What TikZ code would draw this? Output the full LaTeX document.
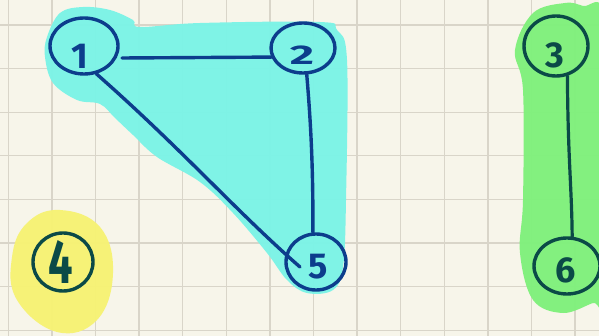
\documentclass[tikz,border=0pt]{standalone}
\usepackage{fontspec}
\setmainfont{Fira Sans}
\usetikzlibrary{shapes.geometric,calc}
\definecolor{paper}{HTML}{F7F5EA}
\definecolor{gridc}{HTML}{D9D5C9}
\definecolor{blueink}{HTML}{0C3D8C}
\definecolor{tealink}{HTML}{0B4A47}
\definecolor{hlcyan}{HTML}{7CF3E6}
\definecolor{hlgreen}{HTML}{80F07C}
\definecolor{hlyellow}{HTML}{F6F274}
\tikzset{
  gridline/.style={gridc, line width=1.3pt},
  vtx/.style={ellipse, draw=#1, line width=3.4pt, inner sep=0pt},
  lbl/.style={text=#1, font=\fontsize{36}{36}\selectfont\bfseries, inner sep=0pt},
  edgeb/.style={draw=blueink, line width=3.4pt, line cap=round},
  edget/.style={draw=tealink, line width=3.2pt, line cap=round},
}
\begin{document}
\begin{tikzpicture}[x=1pt,y=-1pt]
\useasboundingbox (0,0) rectangle (599,336);
\fill[paper] (0,0) rectangle (599,336);
\clip (0,0) rectangle (599,336);
\foreach \i in {0,...,13} \draw[gridline] ({8.3+43.6*\i},0) -- ({8.3+43.6*\i},336);
\foreach \j in {0,...,7} \draw[gridline] (0,{25+43.6*\j}) -- (599,{25+43.6*\j});
% highlights
\fill[hlcyan, opacity=0.97] plot[smooth cycle, tension=0.6] coordinates {
 (45,57) (53,83) (77,100) (100,104) (115,118) (133,135) (157,157) (200,182)
 (233,213) (267,253) (287,280) (307,293) (333,290) (343,267) (346,200)
 (347,60) (337,30) (320,22) (200,23) (140,27) (133,20) (110,10) (83,7)
 (60,13) (47,37)};
\fill[hlgreen, opacity=0.97] plot[smooth cycle, tension=0.6] coordinates {
 (565,3) (583,6) (605,15) (610,150) (605,300) (593,303) (563,313) (533,300)
 (520,253) (523,200) (523,90) (515,50) (533,13)};
\fill[hlyellow, opacity=0.97] plot[smooth cycle, tension=0.7] coordinates {
 (60,210) (100,227) (113,273) (97,320) (57,332) (17,300) (12,257) (27,223)};
% vertices
\node[vtx=blueink, minimum width=68pt, minimum height=56pt,
  label={[lbl=blueink, xshift=-4pt, yshift=-10pt]center:1}] (n1) at (84,46) {};
\node[vtx=blueink, minimum width=64pt, minimum height=50pt,
  label={[lbl=blueink, xshift=-1pt, yshift=-7pt]center:\scalebox{1.3}[0.75]{2}}] (n2) at (303,48) {};
\node[vtx=tealink, minimum width=64pt, minimum height=60pt,
  label={[lbl=tealink, xshift=-1pt, yshift=-9pt]center:3}] (n3) at (556,46) {};
\node[vtx=tealink, minimum width=60pt, minimum height=58pt,
  label={[lbl=tealink, xshift=-2pt, yshift=0pt, font=\fontsize{62}{62}\selectfont\bfseries]center:\scalebox{0.7}[1]{4}}] (n4) at (63,262) {};
\node[vtx=blueink, minimum width=60pt, minimum height=56pt,
  label={[lbl=blueink, xshift=2pt, yshift=-5pt]center:5}] (n5) at (316,262) {};
\node[vtx=tealink, minimum width=66pt, minimum height=56pt,
  label={[lbl=tealink, xshift=-1pt, yshift=-4pt]center:6}] (n6) at (567,266) {};
% edges
\coordinate (e15) at ($(n5.center)+(-16,5)$);
\coordinate (e12) at ($(n1.center)+(38,12)$);
\path[edgeb] (n2.-164) -- (e12);
\path[edgeb] (n1.-66) .. controls ($(n1.-66)!0.4!(e15)+(4,-2)$) and ($(n1.-66)!0.7!(e15)+(-3,2)$) .. (e15);
\path[edgeb] (n2.-82) .. controls ($(n2.-82)!0.4!(n5.96)+(3,0)$) and ($(n2.-82)!0.7!(n5.96)+(2,0)$) .. (n5.96);
\path[edget] (n3.-69) .. controls ($(n3.-69)!0.5!(n6.80)+(-2,0)$) and ($(n3.-69)!0.7!(n6.80)+(1,0)$) .. (n6.80);
\end{tikzpicture}
\end{document}
